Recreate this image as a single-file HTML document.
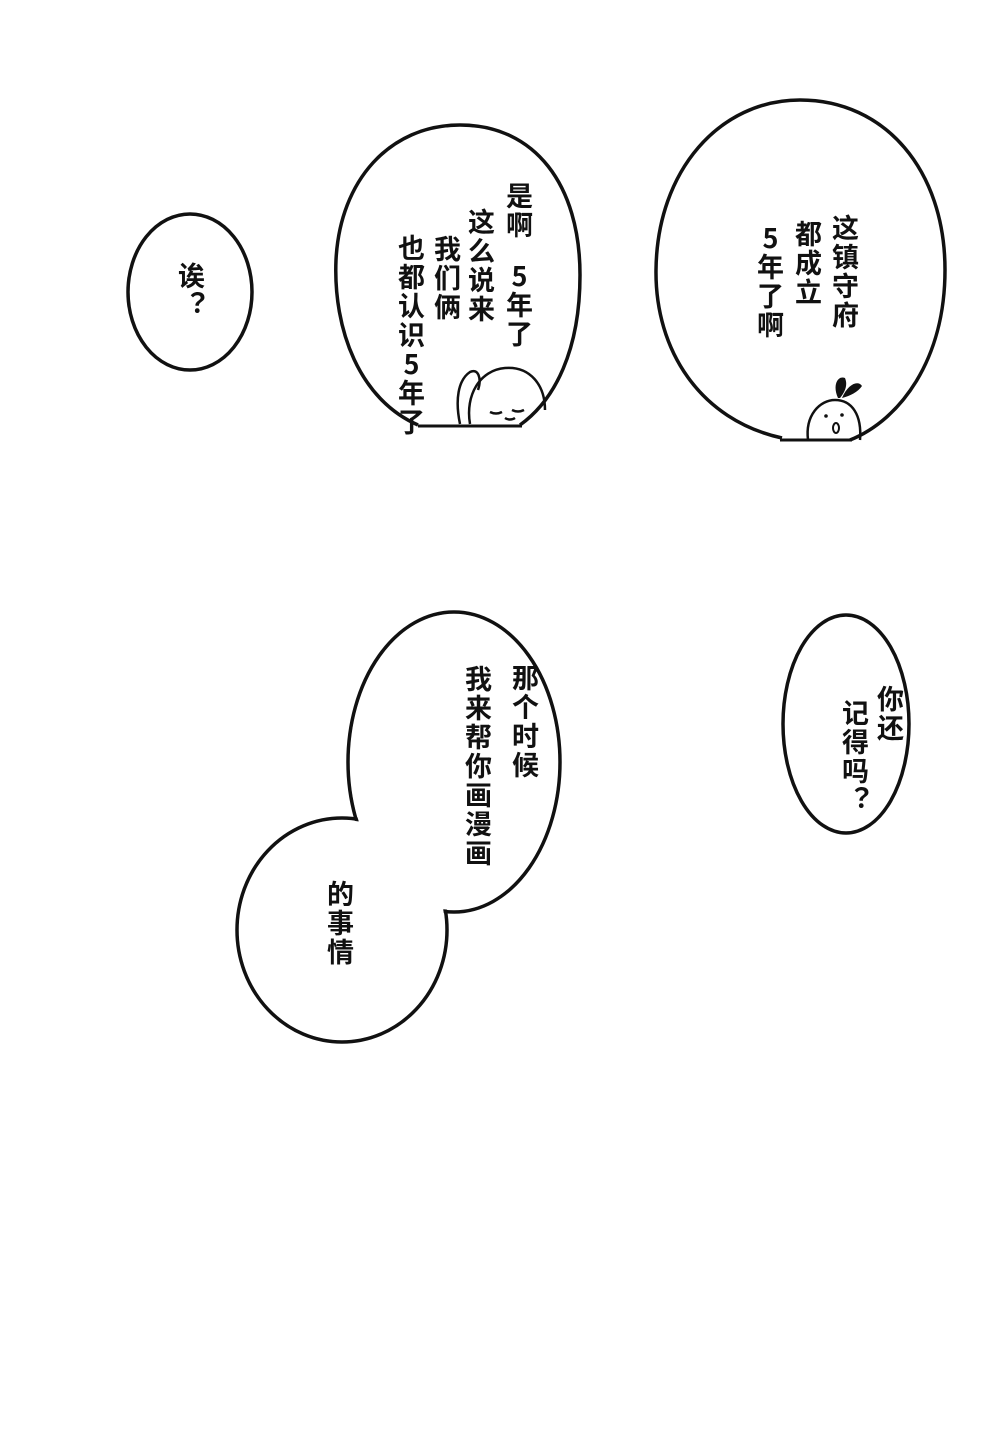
<!DOCTYPE html>
<html><head><meta charset="utf-8">
<style>
html,body{margin:0;padding:0;background:#fff;}
#p{position:relative;width:1000px;height:1443px;overflow:hidden;background:#fff;}
svg{position:absolute;left:0;top:0;}
.c{position:absolute;writing-mode:vertical-rl;text-orientation:upright;font-family:"Noto Sans CJK SC","WenQuanYi Zen Hei",sans-serif;font-weight:bold;font-size:27px;line-height:30px;letter-spacing:2px;color:#111;white-space:nowrap;}
</style></head><body><div id="p">
<svg width="1000" height="1443" viewBox="0 0 1000 1443">
<g fill="none" stroke="#111" stroke-width="3.5">
<ellipse cx="190" cy="292" rx="62" ry="78"/>
<path d="M418 425 C360 400 333 330 336 260 C340 180 390 125 460 125 C535 125 580 185 580 275 C580 350 555 400 520 425"/>
<path d="M782 438 C700 420 655 350 656 270 C657 170 720 100 800 100 C885 100 945 170 945 270 C945 360 900 420 850 440"/>
<ellipse cx="846" cy="724" rx="63" ry="109"/>
<ellipse cx="454" cy="762" rx="106" ry="150"/>
<ellipse cx="342" cy="930" rx="105" ry="112"/>
</g>
<ellipse cx="454" cy="762" rx="104" ry="148" fill="#fff"/>
<ellipse cx="342" cy="930" rx="103" ry="110" fill="#fff"/>
<line x1="418" y1="426" x2="522" y2="426" stroke="#111" stroke-width="3"/>
<line x1="780" y1="440" x2="852" y2="440" stroke="#111" stroke-width="3"/>
<g fill="none" stroke="#111" stroke-width="2.5">
<path d="M470 424 C465 395 480 370 505 368 C530 366 545 385 545 410"/>
<path d="M460 424 C455 400 458 380 470 372 C478 368 482 378 478 390"/>
<path d="M490 412 C494 414 498 414 502 412 M512 410 C516 412 520 412 524 410"/>
<path d="M505 418 C508 420 512 420 515 418"/>
<path d="M808 440 C805 415 820 400 835 400 C852 400 862 415 860 440"/>
</g>
<path fill="#111" d="M838 398 C832 385 838 375 845 378 C848 385 845 392 840 398 Z M842 398 C848 384 858 380 862 386 C858 392 850 396 842 398 Z"/>
<ellipse cx="836" cy="428" rx="3" ry="5" fill="none" stroke="#111" stroke-width="2"/>
<circle cx="826" cy="416" r="1.8" fill="#111"/><circle cx="842" cy="415" r="1.8" fill="#111"/>
</svg>
<div class="c" style="left:176px;top:262px;">诶？</div>
<div class="c" style="left:504px;top:182px;">是啊</div>
<div class="c" style="left:504px;top:262px;">5年了</div>
<div class="c" style="left:466px;top:208px;">这么说来</div>
<div class="c" style="left:432px;top:235px;">我们俩</div>
<div class="c" style="left:396px;top:234px;">也都认识5年了</div>
<div class="c" style="left:830px;top:214px;">这镇守府</div>
<div class="c" style="left:793px;top:220px;">都成立</div>
<div class="c" style="left:755px;top:224px;">5年了啊</div>
<div class="c" style="left:875px;top:685px;">你还</div>
<div class="c" style="left:840px;top:699px;">记得吗？</div>
<div class="c" style="left:510px;top:664px;">那个时候</div>
<div class="c" style="left:463px;top:665px;">我来帮你画漫画</div>
<div class="c" style="left:325px;top:880px;">的事情</div>
</div></body></html>
